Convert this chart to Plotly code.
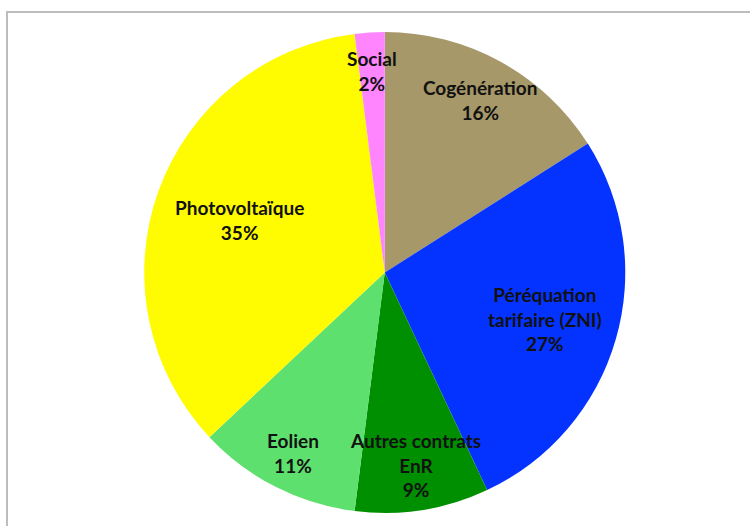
import math
import plotly.graph_objects as go

labels = ["Cogénération", "Péréquation tarifaire (ZNI)", "Autres contrats EnR", "Eolien", "Photovoltaïque", "Social"]
display_labels = ["Cogénération", "Péréquation<br>tarifaire (ZNI)", "Autres contrats<br>EnR", "Eolien", "Photovoltaïque", "Social"]
values = [16, 27, 9, 11, 35, 2]
colors = ["#A69868", "#0433FF", "#008F00", "#5EE06E", "#FFFB00", "#FF85FF"]

# label distance from centre, as a fraction of the radius (style)
label_radius = [0.82, 0.695, 0.81, 0.84, 0.64, 0.84]

W, H = 750, 526
dom_x = [0.19, 0.836]
dom_y = [0.0247, 0.9392]

fig = go.Figure(go.Pie(
    labels=labels,
    values=values,
    textinfo="none",
    sort=False,
    direction="clockwise",
    rotation=0,
    marker=dict(colors=colors, line=dict(width=0)),
    showlegend=False,
    domain=dict(x=dom_x, y=dom_y),
    hoverinfo="label+percent",
))

# label placement derived from slice mid-angles
cx = (dom_x[0] + dom_x[1]) / 2 * W
cy = (dom_y[0] + dom_y[1]) / 2 * H  # from bottom
R = min((dom_x[1] - dom_x[0]) * W, (dom_y[1] - dom_y[0]) * H) / 2
total = sum(values)
cum = 0
annotations = []
for lab, v, rf in zip(display_labels, values, label_radius):
    mid = (cum + v / 2) / total * 2 * math.pi
    cum += v
    px = cx + rf * R * math.sin(mid)
    py = cy + rf * R * math.cos(mid)
    pct = round(v / total * 100)
    annotations.append(dict(
        x=px / W, y=py / H, xref="paper", yref="paper",
        text=f"{lab}<br>{pct}%", showarrow=False,
        xanchor="center", yanchor="middle",
        font=dict(family="Lato", size=19, color="#111111", weight="bold"),
    ))

fig.update_layout(
    width=W, height=H,
    margin=dict(l=0, r=0, t=0, b=0),
    paper_bgcolor="white",
    annotations=annotations,
    shapes=[dict(type="rect", xref="paper", yref="paper",
                 x0=7/750, x1=1.02, y0=-0.02, y1=1-12/526,
                 line=dict(color="#BDBDBD", width=2), layer="below")],
)

fig.write_html("out.html")
